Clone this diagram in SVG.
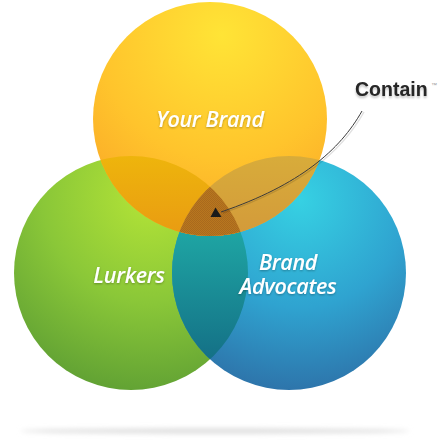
<svg xmlns="http://www.w3.org/2000/svg" width="440" height="440" viewBox="0 0 440 440">
<style>
.lbl{font-family:"Open Sans","Noto Sans",sans-serif;font-style:italic;font-weight:600;font-size:21.5px;letter-spacing:-0.3px;fill:#fff;text-anchor:middle;filter:url(#ts)}
.conn{fill:none;stroke:#3a3a3a;stroke-width:1}
</style>
<defs>
<radialGradient id="gY" gradientUnits="userSpaceOnUse" cx="222" cy="35" r="225">
<stop offset="0" stop-color="#FFE436"/><stop offset="0.55" stop-color="#FFC42C"/><stop offset="1" stop-color="#F8A026"/>
</radialGradient>
<radialGradient id="gG" gradientUnits="userSpaceOnUse" cx="150" cy="195" r="215">
<stop offset="0" stop-color="#B4E437"/><stop offset="0.5" stop-color="#8AC738"/><stop offset="1" stop-color="#5A9B33"/>
</radialGradient>
<radialGradient id="gB" gradientUnits="userSpaceOnUse" cx="300" cy="200" r="215">
<stop offset="0" stop-color="#36D1E3"/><stop offset="0.5" stop-color="#2FA3D0"/><stop offset="1" stop-color="#2D67A0"/>
</radialGradient>
<linearGradient id="gGB" gradientUnits="userSpaceOnUse" x1="0" y1="225" x2="0" y2="360">
<stop offset="0" stop-color="#1FA8A5"/><stop offset="1" stop-color="#147086"/>
</linearGradient>
<linearGradient id="gYG" gradientUnits="userSpaceOnUse" x1="0" y1="155" x2="0" y2="236">
<stop offset="0" stop-color="#EEB50C"/><stop offset="1" stop-color="#E99B12"/>
</linearGradient>
<linearGradient id="gYB" gradientUnits="userSpaceOnUse" x1="0" y1="155" x2="0" y2="236">
<stop offset="0" stop-color="#D8AC3A"/><stop offset="1" stop-color="#D39A3A"/>
</linearGradient>
<pattern id="chk" width="2" height="2" patternUnits="userSpaceOnUse">
<rect width="2" height="2" fill="#B8771F"/><rect width="1" height="1" fill="#A9691D"/><rect x="1" y="1" width="1" height="1" fill="#A9691D"/>
</pattern>
<clipPath id="cG"><circle cx="131" cy="273" r="117"/></clipPath>
<clipPath id="cB"><circle cx="289" cy="273" r="117"/></clipPath>
<clipPath id="cY"><circle cx="210" cy="119" r="117"/></clipPath>
<filter id="ts" x="-20%" y="-30%" width="140%" height="160%">
<feDropShadow dx="0" dy="1" stdDeviation="1" flood-color="#000" flood-opacity="0.3"/>
</filter>
<filter id="cs" x="-20%" y="-30%" width="140%" height="180%">
<feDropShadow dx="0" dy="2" stdDeviation="1.2" flood-color="#000" flood-opacity="0.25"/>
</filter>
<filter id="blur" x="-10%" y="-300%" width="120%" height="700%">
<feGaussianBlur stdDeviation="2.5"/>
</filter>
</defs>

<ellipse cx="215" cy="431" rx="195" ry="2.5" fill="#dcdcdc" filter="url(#blur)"/>

<g id="lurkers">
<circle cx="131" cy="273" r="117" fill="url(#gG)"/>
</g>
<g id="brand-advocates">
<circle cx="289" cy="273" r="117" fill="url(#gB)"/>
<circle cx="289" cy="273" r="117" fill="url(#gGB)" clip-path="url(#cG)"/>
</g>
<g id="your-brand">
<circle cx="210" cy="119" r="117" fill="url(#gY)"/>
<g clip-path="url(#cY)">
<circle cx="131" cy="273" r="117" fill="url(#gYG)"/>
<circle cx="289" cy="273" r="117" fill="url(#gYB)"/>
<g clip-path="url(#cG)"><circle cx="289" cy="273" r="117" fill="url(#chk)"/></g>
</g>
<text class="lbl" x="210" y="127">Your Brand</text>
</g>
<g id="lurkers-label">
<text class="lbl" x="129" y="283">Lurkers</text>
</g>
<g id="brand-advocates-label">
<text class="lbl" x="288" y="270">Brand<tspan x="288" dy="24">Advocates</tspan></text>
</g>

<g id="contain">
<text x="355" y="96" font-family="Liberation Sans, Arial, sans-serif" font-weight="bold" font-size="19.5" fill="#262626" filter="url(#cs)">Contain</text>
<text x="431" y="87" font-family="Liberation Sans, Arial, sans-serif" font-size="6" fill="#999">™</text>
</g>

<g id="connectors">
<path d="M364,112 C342,151 302,186 223,213" fill="none" stroke="#000" stroke-opacity="0.12" stroke-width="1.5"/>
<path class="conn" d="M362,111 C340,150 300,185 221,212"/>
<polygon points="215.5,207.5 221.5,217 210.5,217" fill="#1a1a1a"/>
</g>
</svg>
